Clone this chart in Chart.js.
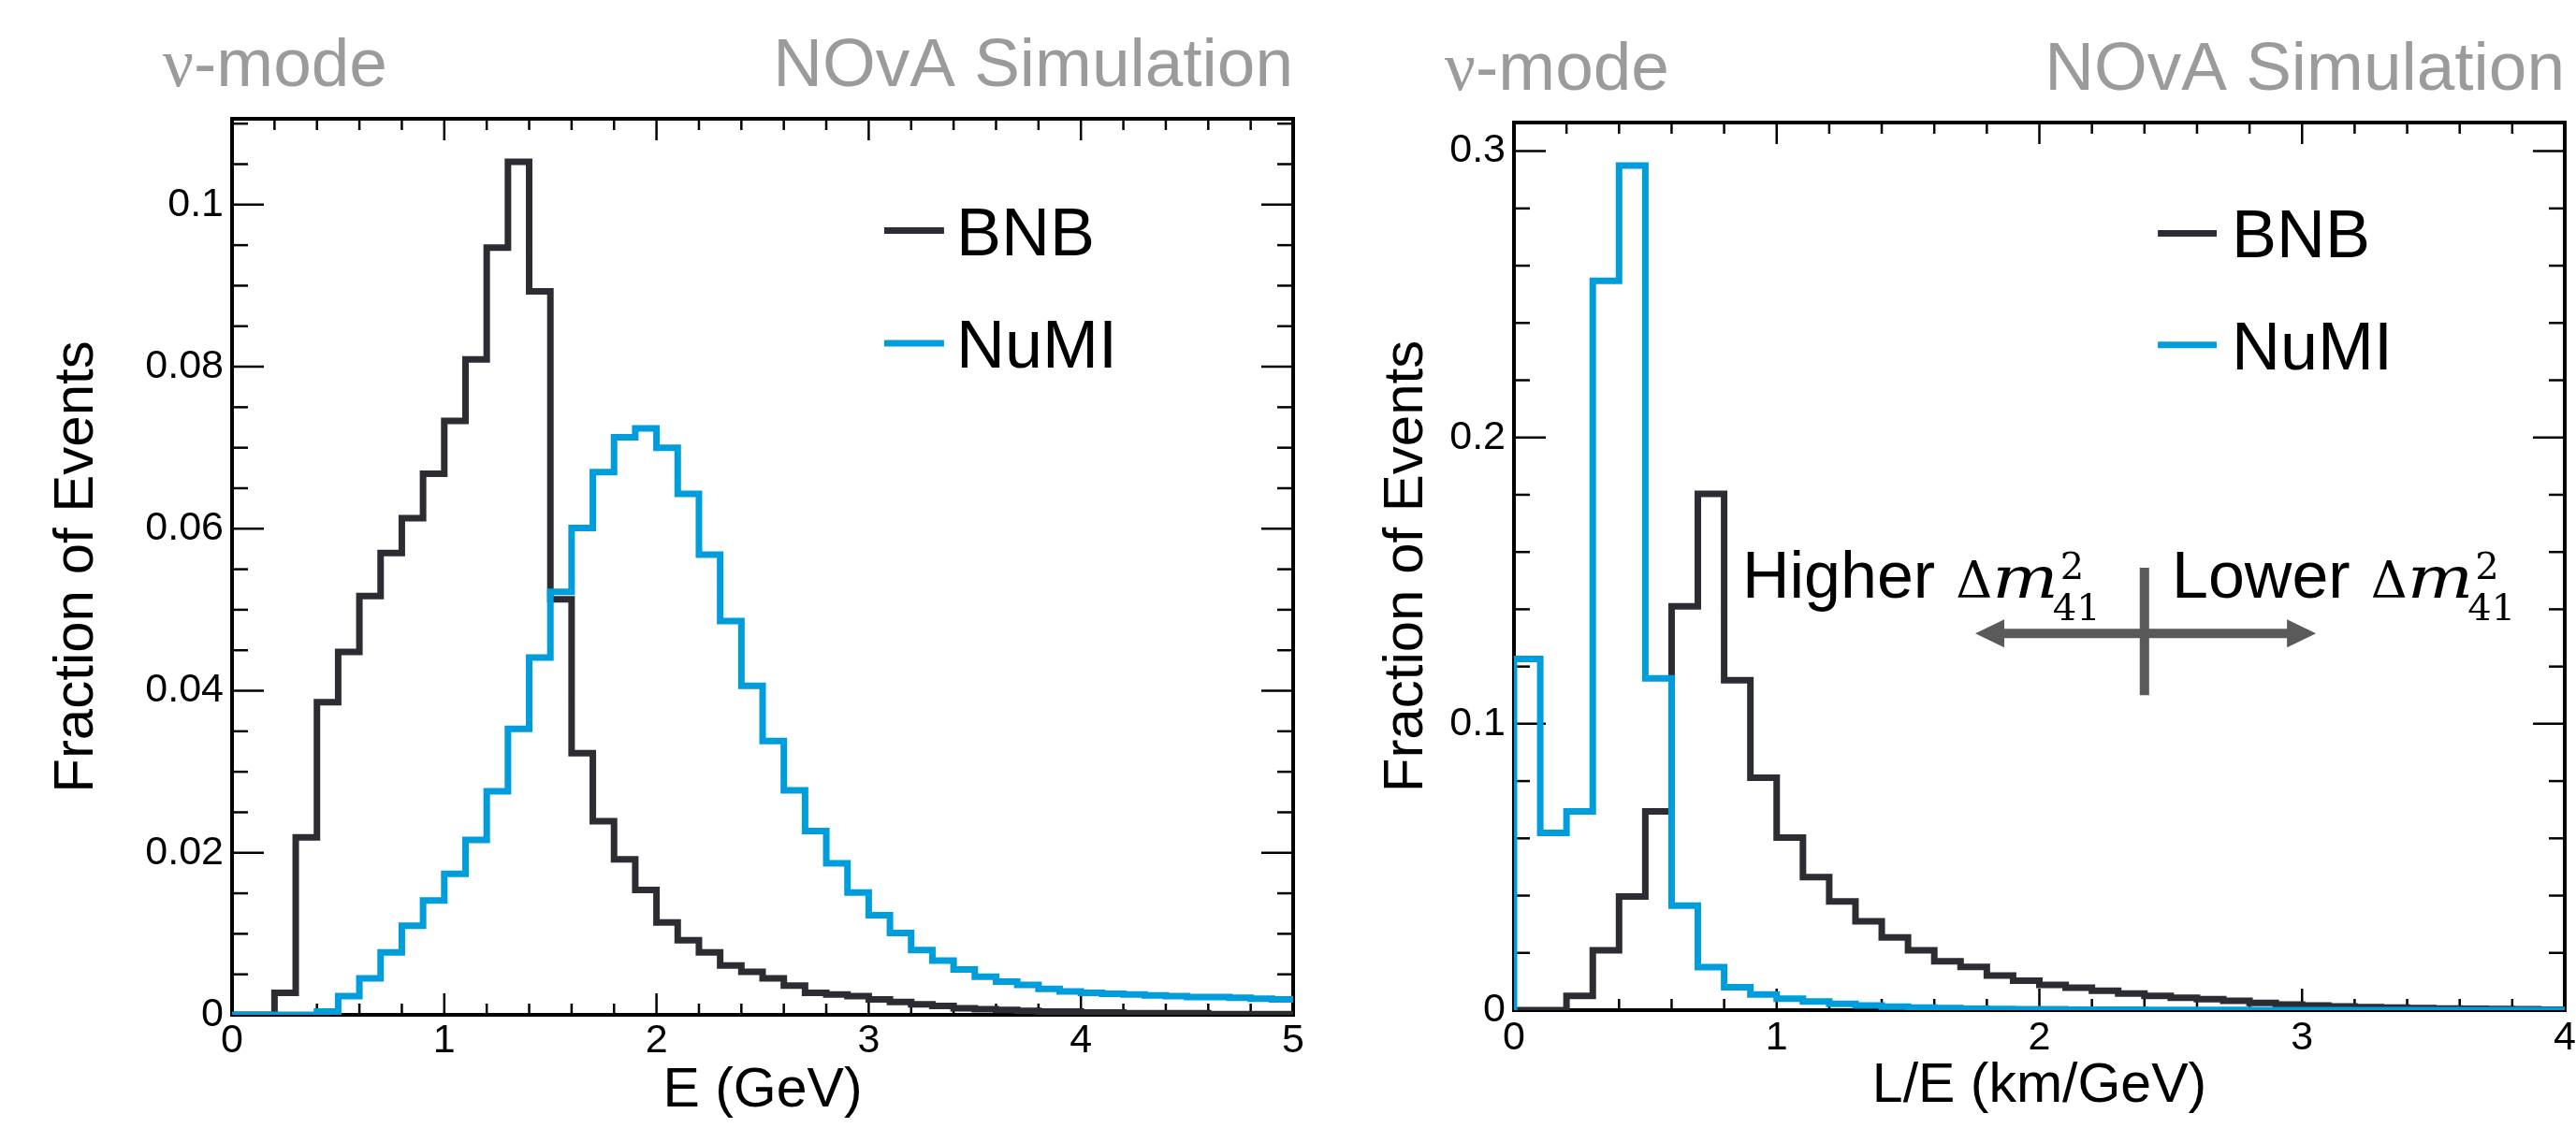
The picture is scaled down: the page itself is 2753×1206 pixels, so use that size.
<!DOCTYPE html>
<html>
<head>
<meta charset="utf-8">
<script src="https://cdn.jsdelivr.net/npm/chart.js@4.4.1/dist/chart.umd.min.js"></script>
<style>
  html, body { margin: 0; padding: 0; background: #fff; }
  #wrap { position: relative; width: 2753px; height: 1206px; overflow: hidden; }
  canvas { position: absolute; top: 0; }
</style>
</head>
<body>
<div id="wrap">
  <canvas id="energyChart" width="1400" height="1206" style="left:0"></canvas>
  <canvas id="lengthChart" width="1353" height="1206" style="left:1400px"></canvas>
</div>
<script>
// --- DATA ---
const binWidth = 0.1;
const seriesNames = ['BNB', 'NuMI'];

// E (GeV): 50 bins of 0.1 from 0 to 5
const bnbEnergy = [
  0, 0, 0.0027, 0.0219, 0.0386, 0.0448, 0.0517, 0.0570, 0.0613, 0.0668,
  0.0733, 0.0809, 0.0947, 0.1053, 0.0893, 0.0513, 0.0323, 0.0239, 0.0192, 0.0154,
  0.0114, 0.0092, 0.0077, 0.0061, 0.0053, 0.0045, 0.0036, 0.0027, 0.0025, 0.0023,
  0.0019, 0.0016, 0.0013, 0.0011, 0.0008, 0.0007, 0.0006, 0.0005, 0.0004, 0.0004,
  0.0003, 0.0003, 0.0002, 0.0002, 0.0002, 0.0002, 0.0001, 0.0001, 0.0001, 0.0001
];
const numiEnergy = [
  0, 0, 0, 0, 0.0004, 0.0023, 0.0045, 0.0077, 0.0110, 0.0141,
  0.0174, 0.0216, 0.0276, 0.0353, 0.0441, 0.0522, 0.0601, 0.0670, 0.0713, 0.0724,
  0.0700, 0.0643, 0.0568, 0.0486, 0.0406, 0.0338, 0.0277, 0.0227, 0.0187, 0.0151,
  0.0123, 0.0101, 0.0080, 0.0067, 0.0056, 0.0047, 0.0041, 0.0037, 0.0032, 0.0029,
  0.0027, 0.0026, 0.0025, 0.0024, 0.0023, 0.0022, 0.0022, 0.0021, 0.0020, 0.0019
];

// L/E (km/GeV): 40 bins of 0.1 from 0 to 4
const bnbLE = [
  0, 0, 0.0050, 0.0209, 0.0397, 0.0694, 0.1410, 0.1803, 0.1152, 0.0812,
  0.0603, 0.0465, 0.0380, 0.0310, 0.0254, 0.0209, 0.0171, 0.0151, 0.0121, 0.0103,
  0.0088, 0.0078, 0.0068, 0.0058, 0.0050, 0.0043, 0.0038, 0.0033, 0.0025, 0.0020,
  0.0016, 0.0013, 0.0011, 0.0009, 0.0007, 0.0006, 0.0005, 0.0004, 0.0003, 0.0002
];
const numiLE = [
  0.1227, 0.0619, 0.0694, 0.2547, 0.2950, 0.1159, 0.0365, 0.0150, 0.0080, 0.0055,
  0.0040, 0.0030, 0.0022, 0.0016, 0.0012, 0.0009, 0.0007, 0.0005, 0.0004, 0.0003,
  0.0003, 0.0002, 0.0002, 0.0002, 0.0001, 0.0001, 0.0001, 0.0001, 0, 0,
  0, 0, 0, 0, 0, 0, 0, 0, 0, 0
];

// tick labels
const energyTicks = [0, 1, 2, 3, 4, 5];
const energyFracTicks = [0, 0.02, 0.04, 0.06, 0.08, 0.1];
const leTicks = [0, 1, 2, 3, 4];
const leFracTicks = [0, 0.1, 0.2, 0.3];

// --- STYLE ---
Chart.defaults.font.family = "'Liberation Sans', Arial, Helvetica, sans-serif";
Chart.defaults.color = '#000';

const BNB_COLOR = '#2b2d33';
const NUMI_COLOR = '#009ddc';
const HEADER_GREY = '#9b9b9b';
const ARROW_GREY = '#5a5a5a';
const SANS = "'Liberation Sans', Arial, sans-serif";
const SERIF = "'DejaVu Serif', 'Liberation Serif', serif";

// histogram outline: start at zero, one point per left bin edge, close at the last edge
function histPoints(values) {
  const pts = [{ x: 0, y: 0 }];
  values.forEach((v, i) => pts.push({ x: i * binWidth, y: v }));
  pts.push({ x: values.length * binWidth, y: values[values.length - 1] });
  return pts;
}

function line(ctx, x1, y1, x2, y2) {
  ctx.beginPath(); ctx.moveTo(x1, y1); ctx.lineTo(x2, y2); ctx.stroke();
}

function tickValues(min, max, step) {
  const out = [];
  for (let k = 0; min + k * step <= max + 1e-9; k++) out.push(min + k * step);
  return out;
}

function isMultiple(v, step) {
  return Math.abs(v / step - Math.round(v / step)) < 1e-6;
}

// Δm²₄₁ in a math-ish serif
function drawDeltaM(ctx, x, base) {
  ctx.font = '54px ' + SERIF;
  ctx.fillText('\u0394', x, base);
  x += ctx.measureText('\u0394').width;
  ctx.save();
  ctx.translate(x, base);
  ctx.scale(1.2, 1);
  ctx.font = 'italic 62px ' + SERIF;
  ctx.fillText('m', 0, 0);
  const mw = ctx.measureText('m').width * 1.2;
  ctx.restore();
  x += mw;
  ctx.font = '40px ' + SERIF;
  ctx.fillText('2', x + 2, base - 20);
  ctx.fillText('41', x - 6, base + 24);
}

// ROOT-like frame: ticks inside on all four sides, headers, legend, annotation
function framePlugin(spec) {
  return {
    id: 'rootFrame',
    beforeDatasetsDraw(chart) {
      const { ctx, chartArea: a, scales: { x, y } } = chart;
      ctx.save();
      ctx.strokeStyle = '#000';
      ctx.lineWidth = 2.5;
      tickValues(x.min, x.max, spec.xMinor).forEach(v => {
        const p = x.getPixelForValue(v);
        const len = isMultiple(v, spec.xMajor) ? 23 : 12;
        line(ctx, p, a.bottom, p, a.bottom - len);
        line(ctx, p, a.top, p, a.top + len);
      });
      tickValues(y.min, y.max, spec.yMinor).forEach(v => {
        const p = y.getPixelForValue(v);
        const len = isMultiple(v, spec.yMajor) ? 34 : 17;
        line(ctx, a.left, p, a.left + len, p);
        line(ctx, a.right, p, a.right - len, p);
      });
      ctx.lineWidth = 4;
      ctx.strokeRect(a.left, a.top, a.right - a.left, a.bottom - a.top);
      ctx.restore();
    },
    afterDatasetsDraw(chart) {
      const { ctx, chartArea: a, scales: { x, y } } = chart;
      ctx.save();
      // headers
      const base = a.top - 35;
      ctx.fillStyle = HEADER_GREY;
      ctx.textBaseline = 'alphabetic';
      ctx.textAlign = 'left';
      ctx.font = "73px 'Liberation Serif', serif";
      const nuX = a.left - 74;
      ctx.fillText('\u03bd', nuX, base);
      const nuW = ctx.measureText('\u03bd').width;
      ctx.font = '73px ' + SANS;
      ctx.fillText('-mode', nuX + nuW, base);
      ctx.textAlign = 'right';
      ctx.fillText('NOvA Simulation', a.right, base);

      // legend
      const lg = spec.legend;
      const colors = [BNB_COLOR, NUMI_COLOR];
      ctx.textAlign = 'left';
      ctx.font = '72px ' + SANS;
      seriesNames.forEach((name, i) => {
        const py = y.getPixelForValue(lg.y[i]);
        ctx.strokeStyle = colors[i];
        ctx.lineWidth = 7;
        line(ctx, x.getPixelForValue(lg.x1), py, x.getPixelForValue(lg.x2), py);
        ctx.fillStyle = '#000';
        ctx.fillText(name, x.getPixelForValue(lg.textX), py + 26);
      });

      // sensitivity annotation
      const an = spec.annotation;
      if (an) {
        ctx.strokeStyle = ARROW_GREY;
        ctx.fillStyle = ARROW_GREY;
        ctx.lineWidth = 10;
        const cx = x.getPixelForValue(an.crossX);
        line(ctx, cx, y.getPixelForValue(an.crossY[0]), cx, y.getPixelForValue(an.crossY[1]));
        const ay = y.getPixelForValue(an.arrowY);
        const xl = x.getPixelForValue(an.arrowX[0]);
        const xr = x.getPixelForValue(an.arrowX[1]);
        const head = 31, half = 15;
        line(ctx, xl + head - 2, ay, xr - head + 2, ay);
        ctx.beginPath();
        ctx.moveTo(xl, ay); ctx.lineTo(xl + head, ay - half); ctx.lineTo(xl + head, ay + half); ctx.closePath();
        ctx.fill();
        ctx.beginPath();
        ctx.moveTo(xr, ay); ctx.lineTo(xr - head, ay - half); ctx.lineTo(xr - head, ay + half); ctx.closePath();
        ctx.fill();

        ctx.fillStyle = '#000';
        const lb = y.getPixelForValue(an.labelY);
        an.labels.forEach(t => {
          const tx = x.getPixelForValue(t.x);
          ctx.font = '70px ' + SANS;
          ctx.textAlign = 'left';
          ctx.fillText(t.text, tx, lb);
          drawDeltaM(ctx, tx + ctx.measureText(t.text).width + 22, lb);
        });
      }
      ctx.restore();
    }
  };
}

function histogramChart(canvasId, spec) {
  return new Chart(document.getElementById(canvasId), {
    type: 'line',
    data: {
      datasets: [
        { label: seriesNames[0], data: histPoints(spec.bnb), borderColor: BNB_COLOR, order: 2 },
        { label: seriesNames[1], data: histPoints(spec.numi), borderColor: NUMI_COLOR, order: 1 }
      ]
    },
    options: {
      responsive: false,
      animation: false,
      events: [],
      datasets: {
        line: { stepped: 'before', borderWidth: 7, pointRadius: 0, fill: false, tension: 0,
                borderJoinStyle: 'miter', borderCapStyle: 'butt' }
      },
      layout: { padding: { top: spec.area.top, right: spec.area.right, left: 0, bottom: 0 } },
      plugins: { legend: { display: false }, tooltip: { enabled: false } },
      scales: {
        x: {
          type: 'linear', min: 0, max: spec.xMax,
          grid: { display: false, drawTicks: false },
          border: { display: false },
          afterBuildTicks: s => { s.ticks = spec.xTicks.map(v => ({ value: v })); },
          afterFit: s => { s.height = spec.area.xHeight; s.paddingLeft = 0; s.paddingRight = 0; },
          ticks: { font: { size: 43 }, padding: spec.xLabelPad, maxRotation: 0, autoSkip: false,
                   callback: v => String(v) },
          title: { display: true, text: spec.xTitle, font: { size: 59 },
                   padding: { top: 0, bottom: spec.xTitlePad } }
        },
        y: {
          type: 'linear', min: 0, max: spec.yMax,
          grid: { display: false, drawTicks: false },
          border: { display: false },
          afterBuildTicks: s => { s.ticks = spec.yTicks.map(v => ({ value: v })); },
          afterFit: s => { s.width = spec.area.left; s.paddingTop = 0; s.paddingBottom = 0; },
          ticks: { font: { size: 43 }, padding: 9, autoSkip: false,
                   callback: v => String(+v.toFixed(3)) },
          title: { display: true, text: 'Fraction of Events', font: { size: 60 },
                   padding: { top: spec.yTitlePad, bottom: 0 } }
        }
      }
    },
    plugins: [framePlugin(spec)]
  });
}

// --- CHARTS ---
histogramChart('energyChart', {
  bnb: bnbEnergy, numi: numiEnergy,
  xMax: 5, yMax: 0.1106,
  xTicks: energyTicks, yTicks: energyFracTicks,
  xMajor: 1, xMinor: 0.2, yMajor: 0.02, yMinor: 0.005,
  xTitle: 'E (GeV)',
  area: { top: 127, right: 18, left: 248, xHeight: 121 },
  xLabelPad: 2, xTitlePad: 4, yTitlePad: 46,
  legend: { x1: 3.073, x2: 3.355, textX: 3.413, y: [0.0968, 0.0829] }
});

histogramChart('lengthChart', {
  bnb: bnbLE, numi: numiLE,
  xMax: 4, yMax: 0.31,
  xTicks: leTicks, yTicks: leFracTicks,
  xMajor: 1, xMinor: 0.2, yMajor: 0.1, yMinor: 0.02,
  xTitle: 'L/E (km/GeV)',
  area: { top: 131, right: 12, left: 218, xHeight: 126 },
  xLabelPad: 4, xTitlePad: 9, yTitlePad: 67,
  legend: { x1: 2.451, x2: 2.675, textX: 2.732, y: [0.2713, 0.2323] },
  annotation: {
    crossX: 2.4, crossY: [0.110, 0.1545],
    arrowY: 0.1316, arrowX: [1.756, 3.053],
    labelY: 0.144,
    labels: [{ text: 'Higher', x: 0.869 }, { text: 'Lower', x: 2.504 }]
  }
});
</script>
</body>
</html>
